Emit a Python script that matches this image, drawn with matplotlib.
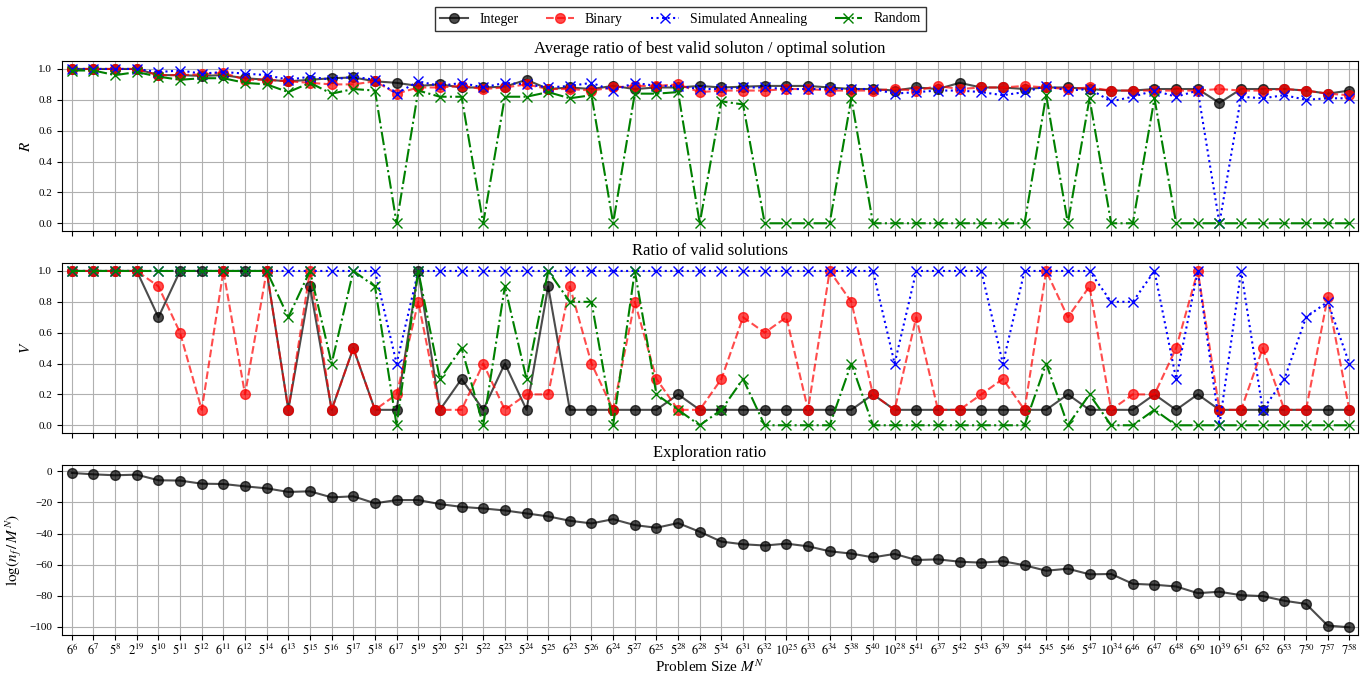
import matplotlib
matplotlib.use("Agg")
import matplotlib.pyplot as plt
import numpy as np

plt.rcParams["font.family"] = "serif"
plt.rcParams["font.serif"] = ["Liberation Serif", "DejaVu Serif"]
plt.rcParams["mathtext.fontset"] = "stix"

# -------------------------------
# Data
# -------------------------------
bases = [6, 6, 5, 2, 5, 5, 5, 6, 6, 5, 6, 5, 5, 5, 5, 6, 5, 5, 5, 5,
         5, 5, 5, 6, 5, 6, 5, 6, 5, 6, 5, 6, 6, 10, 6, 6, 5, 5, 10, 5,
         6, 5, 5, 6, 5, 5, 5, 5, 10, 6, 6, 6, 6, 10, 6, 6, 6, 7, 7, 7]
exps = [6, 7, 8, 19, 10, 11, 12, 11, 12, 14, 13, 15, 16, 17, 18, 17, 19, 20, 21, 22,
        23, 24, 25, 23, 26, 24, 27, 25, 28, 28, 34, 31, 32, 25, 33, 34, 38, 40, 28, 41,
        37, 42, 43, 39, 44, 45, 46, 47, 34, 46, 47, 48, 50, 39, 51, 52, 53, 50, 57, 58]
tick_labels = [f"${b}^{{{e}}}$" for b, e in zip(bases, exps)]

# average ratio of best valid solution / optimal solution
r_integer = [1.0, 1.0, 1.0, 1.0, 0.96, 0.96, 0.955, 0.96, 0.94, 0.93,
             0.92, 0.93, 0.94, 0.945, 0.92, 0.91, 0.89, 0.90, 0.88, 0.88,
             0.885, 0.93, 0.87, 0.88, 0.87, 0.89, 0.87, 0.88, 0.88, 0.89,
             0.88, 0.885, 0.89, 0.89, 0.89, 0.88, 0.87, 0.87, 0.86, 0.88,
             0.87, 0.91, 0.88, 0.88, 0.87, 0.88, 0.88, 0.87, 0.86, 0.86,
             0.87, 0.87, 0.87, 0.78, 0.87, 0.87, 0.87, 0.86, 0.84, 0.86]
r_binary = [1.0, 1.0, 1.0, 1.0, 0.96, 0.96, 0.965, 0.975, 0.93, 0.93,
            0.92, 0.91, 0.90, 0.90, 0.92, 0.84, 0.88, 0.88, 0.89, 0.87,
            0.88, 0.90, 0.87, 0.87, 0.86, 0.88, 0.89, 0.89, 0.90, 0.85,
            0.86, 0.86, 0.86, 0.87, 0.87, 0.86, 0.86, 0.86, 0.87, 0.86,
            0.89, 0.87, 0.88, 0.88, 0.89, 0.88, 0.87, 0.88, 0.86, 0.86,
            0.86, 0.86, 0.86, 0.87, 0.86, 0.86, 0.87, 0.86, 0.84, 0.83]
r_sa = [1.0, 1.0, 1.0, 1.0, 0.98, 0.99, 0.97, 0.98, 0.97, 0.96,
        0.93, 0.95, 0.93, 0.95, 0.93, 0.84, 0.92, 0.89, 0.91, 0.88,
        0.91, 0.90, 0.88, 0.89, 0.91, 0.86, 0.91, 0.89, 0.89, 0.87,
        0.87, 0.88, 0.88, 0.87, 0.87, 0.87, 0.87, 0.87, 0.84, 0.85,
        0.86, 0.86, 0.85, 0.83, 0.85, 0.89, 0.86, 0.87, 0.79, 0.82,
        0.86, 0.82, 0.86, 0.0, 0.82, 0.81, 0.83, 0.80, 0.81, 0.81]
r_random = [0.99, 0.99, 0.96, 0.98, 0.95, 0.93, 0.94, 0.94, 0.91, 0.90,
            0.85, 0.91, 0.84, 0.87, 0.86, 0.0, 0.86, 0.82, 0.82, 0.0,
            0.82, 0.82, 0.85, 0.81, 0.83, 0.0, 0.84, 0.84, 0.85, 0.0,
            0.79, 0.77, 0.0, 0.0, 0.0, 0.0, 0.81, 0.0, 0.0, 0.0,
            0.0, 0.0, 0.0, 0.0, 0.0, 0.83, 0.0, 0.81, 0.0, 0.0,
            0.81, 0.0, 0.0, 0.0, 0.0, 0.0, 0.0, 0.0, 0.0, 0.0]

# ratio of valid solutions
v_integer = [1.0, 1.0, 1.0, 1.0, 0.7, 1.0, 1.0, 1.0, 1.0, 1.0,
             0.1, 0.9, 0.1, 0.5, 0.1, 0.1, 1.0, 0.1, 0.3, 0.1,
             0.4, 0.1, 0.9, 0.1, 0.1, 0.1, 0.1, 0.1, 0.2, 0.1,
             0.1, 0.1, 0.1, 0.1, 0.1, 0.1, 0.1, 0.2, 0.1, 0.1,
             0.1, 0.1, 0.1, 0.1, 0.1, 0.1, 0.2, 0.1, 0.1, 0.1,
             0.2, 0.1, 0.2, 0.1, 0.1, 0.1, 0.1, 0.1, 0.1, 0.1]
v_binary = [1.0, 1.0, 1.0, 1.0, 0.9, 0.6, 0.1, 1.0, 0.2, 1.0,
            0.1, 1.0, 0.1, 0.5, 0.1, 0.2, 0.8, 0.1, 0.1, 0.4,
            0.1, 0.2, 0.2, 0.9, 0.4, 0.1, 0.8, 0.3, 0.1, 0.1,
            0.3, 0.7, 0.6, 0.7, 0.1, 1.0, 0.8, 0.2, 0.1, 0.7,
            0.1, 0.1, 0.2, 0.3, 0.1, 1.0, 0.7, 0.9, 0.1, 0.2,
            0.2, 0.5, 1.0, 0.1, 0.1, 0.5, 0.1, 0.1, 0.83, 0.1]
v_sa = [1.0, 1.0, 1.0, 1.0, 1.0, 1.0, 1.0, 1.0, 1.0, 1.0,
        1.0, 1.0, 1.0, 1.0, 1.0, 0.4, 1.0, 1.0, 1.0, 1.0,
        1.0, 1.0, 1.0, 1.0, 1.0, 1.0, 1.0, 1.0, 1.0, 1.0,
        1.0, 1.0, 1.0, 1.0, 1.0, 1.0, 1.0, 1.0, 0.4, 1.0,
        1.0, 1.0, 1.0, 0.4, 1.0, 1.0, 1.0, 1.0, 0.8, 0.8,
        1.0, 0.3, 1.0, 0.0, 1.0, 0.1, 0.3, 0.7, 0.8, 0.4]
v_random = [1.0, 1.0, 1.0, 1.0, 1.0, 1.0, 1.0, 1.0, 1.0, 1.0,
            0.7, 1.0, 0.4, 1.0, 0.9, 0.0, 1.0, 0.3, 0.5, 0.0,
            0.9, 0.3, 1.0, 0.8, 0.8, 0.0, 1.0, 0.2, 0.1, 0.0,
            0.1, 0.3, 0.0, 0.0, 0.0, 0.0, 0.4, 0.0, 0.0, 0.0,
            0.0, 0.0, 0.0, 0.0, 0.0, 0.4, 0.0, 0.2, 0.0, 0.0,
            0.1, 0.0, 0.0, 0.0, 0.0, 0.0, 0.0, 0.0, 0.0, 0.0]

# exploration ratio log(n_f / M^N)
explore = [-1.1, -2.0, -2.6, -2.2, -5.8, -6.0, -8.0, -8.2, -9.7, -11.0,
           -13.3, -12.9, -16.8, -16.1, -20.6, -18.5, -18.5, -21.1, -22.9, -23.9,
           -25.2, -27.1, -29.0, -31.8, -33.5, -30.8, -34.6, -36.3, -33.3, -38.9,
           -45.2, -46.9, -47.7, -46.5, -48.2, -51.4, -52.9, -55.3, -53.1, -57.0,
           -56.6, -58.1, -58.7, -57.8, -60.4, -63.9, -62.6, -66.2, -66.0, -72.3,
           -72.9, -74.0, -78.3, -77.4, -79.6, -80.2, -83.2, -85.2, -99.1, -100.2]

x = np.arange(len(tick_labels))

# -------------------------------
# Plot
# -------------------------------
fig, axes = plt.subplots(3, 1, figsize=(13.61, 6.73), dpi=100, sharex=True)
fig.subplots_adjust(left=0.0456, right=0.9978, top=0.909, bottom=0.0565, hspace=0.19)

styles = [
    ("Integer", dict(color="black", marker="o", linestyle="-", alpha=0.7, markersize=7)),
    ("Binary", dict(color="red", marker="o", linestyle="--", alpha=0.7, markersize=7)),
    ("Simulated Annealing", dict(color="blue", marker="x", linestyle=":", markersize=7)),
    ("Random", dict(color="green", marker="x", linestyle="-.", markersize=7)),
]

ax = axes[0]
for (label, st), ys in zip(styles, [r_integer, r_binary, r_sa, r_random]):
    ax.plot(x, ys, label=label, linewidth=1.5, **st)
ax.set_title("Average ratio of best valid soluton / optimal solution", fontsize=12)
ax.set_ylabel("$R$", fontsize=11)

ax = axes[1]
for (label, st), ys in zip(styles, [v_integer, v_binary, v_sa, v_random]):
    ax.plot(x, ys, label=label, linewidth=1.5, **st)
ax.set_title("Ratio of valid solutions", fontsize=12)
ax.set_ylabel("$V$", fontsize=11)

ax = axes[2]
ax.plot(x, explore, color="black", marker="o", linestyle="-", alpha=0.7,
        markersize=7, linewidth=1.5)
ax.set_title("Exploration ratio", fontsize=12)
ax.set_ylabel(r"$\log(n_f\,/\,M^N)$", fontsize=11)
ax.set_xlabel("Problem Size $M^N$", fontsize=11, labelpad=0)

for ax in axes:
    ax.grid(True)
    ax.tick_params(labelsize=8)
    ax.set_xlim(-0.45, len(x) - 0.6)

axes[2].set_xticks(x)
axes[2].set_xticklabels(tick_labels, fontsize=9)
axes[2].tick_params(axis="x", pad=2)

handles, labels = axes[0].get_legend_handles_labels()
fig.legend(handles, labels, loc="upper center", ncol=4, fontsize=10,
           bbox_to_anchor=(0.5, 1.0), edgecolor="black", fancybox=False)

plt.savefig("out.png", dpi=100)
plt.close()
